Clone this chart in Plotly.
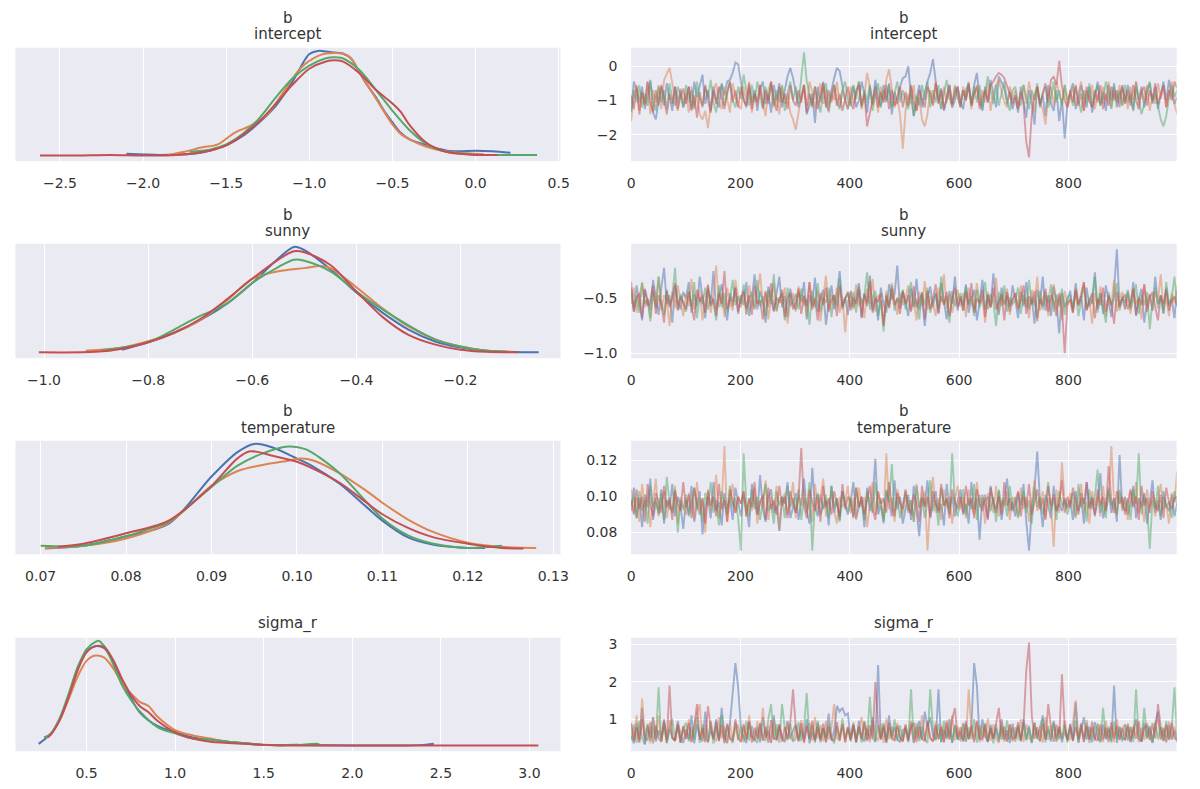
import numpy as np
import plotly.graph_objects as go
from plotly.subplots import make_subplots

chain_colors = ["#4C72B0", "#DD8452", "#55A868", "#C44E52"]
panel_titles = [["b", "intercept"], ["b", "sunny"], ["b", "temperature"], ["sigma_r"]]

# ---------------- KDE (left column), one list per chain ----------------
intercept_kde_x = [
    [-2.10, -1.9, -1.7, -1.6, -1.5, -1.4, -1.3, -1.2, -1.1, -1.0, -0.95, -0.9, -0.85, -0.8, -0.75, -0.7, -0.65, -0.6, -0.55, -0.5, -0.45, -0.4, -0.33, -0.25, -0.17, -0.1, 0.0, 0.1, 0.21],
    [-1.85, -1.75, -1.65, -1.55, -1.45, -1.35, -1.25, -1.15, -1.05, -0.95, -0.9, -0.85, -0.8, -0.75, -0.7, -0.6, -0.5, -0.45, -0.4, -0.3, -0.2, -0.1, 0.0, 0.05],
    [-1.72, -1.6, -1.5, -1.4, -1.3, -1.2, -1.1, -1.0, -0.9, -0.85, -0.8, -0.7, -0.6, -0.5, -0.4, -0.3, -0.2, -0.1, 0.0, 0.1, 0.2, 0.3, 0.37],
    [-2.62, -2.4, -2.2, -2.0, -1.8, -1.6, -1.5, -1.4, -1.3, -1.2, -1.1, -1.0, -0.9, -0.85, -0.8, -0.7, -0.6, -0.5, -0.45, -0.4, -0.3, -0.2, -0.1, 0.0, 0.13],
]
intercept_kde_y = [
    [0.02, 0.01, 0.02, 0.05, 0.10, 0.19, 0.32, 0.48, 0.71, 0.97, 1.0, 0.995, 0.985, 0.975, 0.93, 0.80, 0.67, 0.56, 0.43, 0.32, 0.22, 0.16, 0.12, 0.08, 0.05, 0.045, 0.05, 0.045, 0.03],
    [0.01, 0.04, 0.08, 0.11, 0.22, 0.29, 0.40, 0.62, 0.84, 0.95, 0.975, 0.98, 0.975, 0.93, 0.80, 0.55, 0.30, 0.21, 0.16, 0.09, 0.05, 0.03, 0.02, 0.015],
    [0.04, 0.06, 0.11, 0.21, 0.36, 0.56, 0.74, 0.86, 0.93, 0.94, 0.93, 0.82, 0.63, 0.43, 0.25, 0.12, 0.05, 0.025, 0.01, 0.008, 0.008, 0.01, 0.01],
    [0.005, 0.005, 0.01, 0.005, 0.01, 0.05, 0.10, 0.20, 0.33, 0.50, 0.68, 0.83, 0.90, 0.91, 0.90, 0.79, 0.63, 0.50, 0.42, 0.30, 0.13, 0.05, 0.02, 0.01, 0.01],
]
sunny_kde_x = [
    [-0.85, -0.8, -0.75, -0.7, -0.65, -0.6, -0.55, -0.52, -0.5, -0.45, -0.4, -0.35, -0.3, -0.25, -0.2, -0.15, -0.1, -0.05],
    [-0.92, -0.85, -0.8, -0.75, -0.7, -0.65, -0.6, -0.55, -0.5, -0.47, -0.45, -0.4, -0.35, -0.3, -0.25, -0.2, -0.15, -0.1],
    [-0.89, -0.8, -0.75, -0.72, -0.7, -0.65, -0.6, -0.55, -0.52, -0.5, -0.45, -0.4, -0.35, -0.3, -0.25, -0.2, -0.15, -0.11],
    [-1.01, -0.9, -0.85, -0.8, -0.75, -0.7, -0.65, -0.6, -0.55, -0.52, -0.5, -0.45, -0.4, -0.35, -0.3, -0.25, -0.2, -0.15, -0.09],
]
sunny_kde_y = [
    [0.03, 0.10, 0.19, 0.31, 0.46, 0.66, 0.89, 1.0, 0.97, 0.79, 0.57, 0.38, 0.22, 0.11, 0.05, 0.02, 0.008, 0.005],
    [0.02, 0.05, 0.11, 0.19, 0.31, 0.49, 0.70, 0.77, 0.80, 0.82, 0.80, 0.62, 0.42, 0.25, 0.13, 0.06, 0.02, 0.01],
    [0.02, 0.10, 0.22, 0.30, 0.35, 0.46, 0.66, 0.81, 0.88, 0.87, 0.77, 0.58, 0.41, 0.26, 0.13, 0.06, 0.02, 0.01],
    [0.005, 0.01, 0.04, 0.10, 0.19, 0.32, 0.50, 0.70, 0.88, 0.96, 0.95, 0.83, 0.58, 0.34, 0.17, 0.08, 0.03, 0.01, 0.005],
]
temperature_kde_x = [
    [0.0705, 0.075, 0.08, 0.085, 0.09, 0.093, 0.095, 0.097, 0.1, 0.102, 0.105, 0.108, 0.11, 0.113, 0.116, 0.12, 0.122],
    [0.0705, 0.075, 0.08, 0.085, 0.09, 0.093, 0.096, 0.099, 0.1005, 0.102, 0.105, 0.108, 0.11, 0.113, 0.116, 0.12, 0.124, 0.128],
    [0.070, 0.075, 0.08, 0.083, 0.085, 0.09, 0.093, 0.096, 0.099, 0.101, 0.103, 0.105, 0.108, 0.11, 0.113, 0.116, 0.12, 0.1225, 0.124],
    [0.072, 0.075, 0.08, 0.085, 0.09, 0.093, 0.0945, 0.097, 0.1, 0.102, 0.105, 0.108, 0.11, 0.113, 0.116, 0.12, 0.124, 0.1265],
]
temperature_kde_y = [
    [0.005, 0.03, 0.12, 0.24, 0.69, 0.92, 1.0, 0.97, 0.86, 0.78, 0.62, 0.41, 0.27, 0.11, 0.04, 0.01, 0.01],
    [0.01, 0.03, 0.10, 0.25, 0.60, 0.74, 0.80, 0.84, 0.86, 0.84, 0.72, 0.56, 0.44, 0.28, 0.16, 0.06, 0.02, 0.01],
    [0.03, 0.03, 0.12, 0.20, 0.26, 0.59, 0.79, 0.91, 0.975, 0.95, 0.85, 0.72, 0.46, 0.29, 0.13, 0.05, 0.01, 0.02, 0.03],
    [0.02, 0.05, 0.15, 0.27, 0.60, 0.86, 0.93, 0.89, 0.83, 0.76, 0.63, 0.45, 0.33, 0.20, 0.11, 0.05, 0.01, 0.005],
]
sigma_kde_x = [
    [0.23, 0.3, 0.35, 0.4, 0.45, 0.5, 0.55, 0.6, 0.65, 0.7, 0.75, 0.8, 0.9, 1.0, 1.1, 1.2, 1.3, 1.5, 1.7, 2.0, 2.3, 2.4, 2.46],
    [0.27, 0.3, 0.35, 0.4, 0.45, 0.5, 0.55, 0.6, 0.65, 0.7, 0.75, 0.8, 0.85, 0.9, 1.0, 1.1, 1.2, 1.3, 1.5, 1.6],
    [0.26, 0.3, 0.35, 0.4, 0.45, 0.5, 0.55, 0.57, 0.6, 0.65, 0.7, 0.75, 0.8, 0.9, 1.0, 1.1, 1.2, 1.3, 1.5, 1.7, 1.8, 1.82],
    [0.28, 0.3, 0.35, 0.4, 0.45, 0.5, 0.55, 0.6, 0.65, 0.7, 0.75, 0.8, 0.85, 0.9, 1.0, 1.1, 1.2, 1.4, 1.6, 2.0, 2.5, 3.05],
]
sigma_kde_y = [
    [0.02, 0.12, 0.26, 0.48, 0.74, 0.90, 0.95, 0.93, 0.80, 0.62, 0.46, 0.32, 0.19, 0.13, 0.08, 0.06, 0.04, 0.01, 0.01, 0.005, 0.005, 0.01, 0.02],
    [0.08, 0.12, 0.25, 0.45, 0.66, 0.81, 0.86, 0.84, 0.74, 0.60, 0.50, 0.42, 0.38, 0.28, 0.15, 0.10, 0.07, 0.04, 0.01, 0.005],
    [0.08, 0.12, 0.27, 0.50, 0.75, 0.92, 0.99, 1.0, 0.95, 0.78, 0.58, 0.44, 0.33, 0.18, 0.12, 0.07, 0.06, 0.04, 0.01, 0.01, 0.02, 0.01],
    [0.08, 0.11, 0.25, 0.47, 0.72, 0.89, 0.95, 0.94, 0.82, 0.64, 0.49, 0.38, 0.32, 0.24, 0.13, 0.07, 0.04, 0.02, 0.005, 0.005, 0.005, 0.005],
]

# ---------------- Sampled traces (right column), every 5th draw ----------------
intercept_trace = [
    [-1.3,-.45,-.7,-1.05,-.6,-1.25,-.85,-.4,-1.35,-1.55,-1.0,-.6,-1.15,-.5,-.9,-1.3,-.6,-1.05,-.7,-1.2,
     -.95,-.6,-1.25,-.45,-.9,-.55,-.25,-1.1,-.7,-1.3,-.6,-1.0,-1.2,-.5,-.85,-.45,-.4,-.2,.1,.05,
     -.5,-.95,-1.2,-.6,-1.05,-.7,-1.3,-.65,-.45,-1.1,-.8,-1.35,-.55,-1.0,-.5,-1.2,-.7,-.3,-.05,-.35,
     -.75,-1.2,-.95,-.55,-1.4,-1.15,-.8,-1.65,-.6,-1.05,-.45,-1.1,-1.3,-.7,-.35,-.05,-.15,-.6,-1.0,-1.25,
     -.9,-.55,-1.2,-1.0,-.45,-.8,-1.35,-.6,-1.1,-.4,-.95,-1.2,-.55,-1.05,-.5,-1.4,-.75,-1.1,-.6,-.35,
     -.3,0.0,-.9,-1.45,-1.0,-.55,-1.2,-.75,-.45,-.2,.2,-.5,-1.1,-.65,-1.3,-.9,-.55,-1.2,-1.0,-.6,
     -1.0,-1.25,-.7,-.5,-1.1,-.55,-.2,-.95,-1.3,-.6,-1.05,-.4,-.85,-1.2,-.3,-.5,-.65,-1.1,-.75,-1.25,
     -.9,-1.35,-.6,-1.0,-1.5,-.7,-1.1,-1.7,-.6,-1.2,-.85,-1.45,-.55,-1.1,-1.3,-.7,-1.6,-.95,-2.1,-1.1,
     -.75,-.5,-1.25,-.95,-.55,-.9,-1.2,-.6,-1.35,-.95,-.45,-1.1,-.75,-1.3,-.55,-1.0,-.5,-1.2,-.85,-.6,
     -1.1,-.55,-.9,-1.3,-.45,-1.0,-.6,-1.2,-.75,-.5,-1.1,-.6,-1.25,-.85,-.45,-1.0,-.4,-.8,-1.1,-.9],
    [-1.6,-.85,-.55,-1.3,-.8,-1.15,-.45,-1.4,-.7,-1.05,-.55,-1.25,-.4,-.2,-.05,-.5,-1.0,-1.3,-.65,-1.1,
     -.8,-1.35,-.6,-1.2,-.85,-1.4,-1.55,-1.3,-1.8,-1.1,-.7,-.5,-1.05,-1.25,-.6,-.95,-1.35,-.5,-.9,-1.15,
     -1.25,-.6,-1.05,-.45,-1.35,-.8,-1.15,-.55,-.95,-1.45,-.7,-.45,-1.2,-.85,-1.4,-.6,-1.1,-.8,-1.35,-1.55,
     -1.85,-1.4,-.85,-.55,-1.15,-.45,-.75,-1.25,-.9,-.5,-1.1,-.65,-1.35,-.8,-1.0,-.45,-1.2,-.7,-.95,-1.25,
     -.6,-1.1,-.8,-.45,-1.25,-.85,-.2,-.6,-1.15,-.8,-1.35,-.6,-1.05,-.4,-.1,-.7,-1.2,-.95,-1.4,-2.4,
     -1.3,-.8,-1.1,-.55,-1.3,-.9,-1.55,-1.75,-1.4,-.7,-1.1,-.45,-.95,-1.25,-.6,-1.05,-.7,-1.2,-.55,-.95,
     -1.15,-.6,-.9,-.45,-1.25,-.85,-.55,-1.15,-.7,-1.05,-.5,-1.3,-.8,-.55,-.4,-.75,-1.05,-1.2,-.6,-1.0,
     -.7,-1.25,-.85,-.55,-1.1,-.45,-.9,-1.35,-.6,-1.05,-1.25,-1.7,-.85,-.6,-1.15,-.45,-.8,-1.1,-.55,-1.2,
     -.95,-.6,-1.15,-.8,-.45,-1.3,-.7,-1.05,-.55,-1.25,-.8,-1.15,-.6,-1.0,-.45,-1.2,-.7,-1.05,-.55,-1.15,
     -.8,-1.25,-.6,-1.0,-.45,-1.15,-.7,-1.05,-.55,-1.3,-.8,-1.1,-.5,-.95,-.6,-1.2,-.75,-.45,-1.1,-1.4],
    [-1.35,-.7,-1.05,-.55,-1.2,-.8,-1.15,-.45,-.95,-1.3,-.6,-1.05,-.7,-1.25,-.5,-.95,-1.15,-.6,-.85,-1.2,
     -.55,-1.05,-.7,-1.25,-.45,-.95,-1.15,-.6,-.9,-.4,-1.05,-1.35,-.7,-.55,-1.15,-.8,-.45,-1.0,-1.2,-.6,
     -.95,-.25,-.7,-1.15,-.55,-1.05,-.45,-.85,-1.25,-.6,-1.0,-.5,-1.15,-.7,-1.05,-.55,-1.3,-.8,-.45,-1.0,
     -.6,-1.1,-.4,.4,-.45,-.85,-1.2,-.6,-1.0,-1.35,-.7,-.5,-1.15,-.8,-.55,-1.05,-1.25,-.7,-.45,-1.0,
     -1.15,-.6,-.95,-.45,-1.2,-.7,-1.05,-.55,-1.3,-.8,-.5,-1.15,-.7,-1.0,-.55,-1.2,-.8,-.45,-1.05,-.7,
     -1.0,-1.25,-.6,-1.45,-.85,-1.15,-.55,-1.0,-.45,-1.2,-.7,-1.05,-.55,-1.25,-.8,-.4,-.95,-1.15,-.6,-.85,
     -1.2,-.7,-1.0,-.5,-1.15,-.6,-1.05,-.55,-1.25,-.8,-.3,-.7,-1.1,-.55,-1.15,-.8,-.45,-1.0,-1.3,-.7,
     -.6,-1.05,-1.15,-.55,-.9,-1.25,-.7,-1.0,-.5,-1.15,-.8,-.6,-1.2,-.95,-.45,-1.05,-.7,-1.15,-.55,-1.0,
     -.8,-1.15,-.6,-1.0,-1.35,-.7,-1.05,-.5,-1.2,-.8,-.55,-1.15,-.95,-.45,-.85,-1.25,-.6,-1.05,-.7,-1.15,
     -.55,-1.05,-.8,-1.25,-.6,-1.0,-1.4,-1.1,-.7,-.45,-1.05,-.8,-1.2,-1.55,-1.75,-1.45,-.95,-.55,-.9,-.7],
    [-.85,-1.25,-.6,-1.4,-.75,-1.1,-.45,-1.05,-1.35,-.7,-1.15,-.55,-.95,-1.4,-.8,-1.1,-.6,-1.25,-.9,-.65,
     -1.1,-.6,-1.3,-.85,-1.5,-.75,-1.2,-.55,-1.0,-1.35,-.7,-1.1,-.6,-.95,-1.25,-.75,-.45,-1.05,-.7,-1.2,
     -.6,-1.0,-1.15,-.5,-1.25,-.8,-1.05,-.55,-1.2,-.7,-1.1,-.45,-.95,-1.3,-.6,-1.05,-.8,-1.25,-.55,-1.0,
     -1.15,-.7,-1.05,-.55,-1.35,-.8,-1.15,-.6,-1.25,-.85,-.5,-1.2,-.7,-1.05,-.55,-1.15,-.8,-1.3,-.95,-.6,
     -1.05,-1.25,-.7,-.55,-1.15,-.8,-1.75,-1.35,-.95,-.6,-1.2,-.75,-1.05,-.55,-1.25,-.7,-1.15,-.9,-.6,-1.2,
     -.75,-1.15,-.55,-1.05,-1.3,-.7,-.95,-1.2,-.6,-.8,-1.15,-.5,-1.05,-.7,-1.25,-.95,-.55,-1.1,-.8,-.6,
     -1.2,-.7,-1.0,-.55,-1.15,-.8,-.6,-1.25,-.95,-.7,-1.05,-.55,-.45,-.3,-.2,-.25,-.35,-.55,-.8,-1.1,
     -.85,-1.25,-.75,-1.1,-2.2,-2.65,-1.4,-.85,-.6,-1.1,-.8,-.5,-1.05,-.4,-.3,-.55,.15,-.6,-1.0,-1.2,
     -.7,-1.05,-.55,-1.15,-.8,-1.3,-.6,-1.0,-1.2,-.7,-1.05,-.55,-1.25,-.8,-1.15,-.6,-1.0,-.7,-1.2,-.55,
     -1.05,-.7,-1.15,-.55,-1.0,-1.25,-.75,-.6,-1.15,-.7,-1.0,-.5,-1.1,-.8,-.55,-1.2,-.7,-1.0,-.45,-.65],
]
sunny_trace = [
    [-.45,-.62,-.38,-.55,-.7,-.42,-.5,-.6,-.33,-.48,-.65,-.4,-.22,-.55,-.47,-.72,-.38,-.52,-.6,-.44,
     -.5,-.35,-.63,-.46,-.57,-.3,-.52,-.68,-.41,-.55,-.25,-.6,-.48,-.37,-.58,-.7,-.45,-.53,-.4,-.62,
     -.47,-.56,-.35,-.66,-.5,-.28,-.6,-.43,-.54,-.72,-.39,-.5,-.62,-.45,-.3,-.58,-.48,-.67,-.41,-.55,
     -.6,-.44,-.52,-.35,-.69,-.47,-.56,-.31,-.62,-.5,-.42,-.74,-.53,-.38,-.6,-.46,-.25,-.57,-.49,-.65,
     -.43,-.58,-.5,-.36,-.67,-.45,-.54,-.29,-.61,-.48,-.7,-.4,-.55,-.63,-.37,-.51,-.46,-.2,-.59,-.44,
     -.53,-.66,-.41,-.57,-.32,-.6,-.47,-.75,-.5,-.39,-.58,-.45,-.64,-.36,-.52,-.69,-.43,-.55,-.3,-.61,
     -.48,-.56,-.37,-.63,-.5,-.42,-.7,-.54,-.33,-.6,-.46,-.58,-.27,-.52,-.65,-.4,-.55,-.47,-.62,-.38,
     -.51,-.68,-.44,-.57,-.35,-.6,-.49,-.73,-.42,-.55,-.3,-.61,-.47,-.66,-.39,-.53,-.82,-.45,-.58,-.5,
     -.43,-.62,-.36,-.55,-.48,-.7,-.4,-.57,-.51,-.26,-.6,-.45,-.64,-.38,-.53,-.67,-.42,-.05,-.56,-.49,
     -.6,-.44,-.58,-.35,-.66,-.5,-.41,-.72,-.54,-.46,-.61,-.3,-.55,-.48,-.64,-.4,-.57,-.5,-.68,-.43],
    [-.55,-.4,-.63,-.48,-.35,-.58,-.5,-.68,-.42,-.56,-.3,-.61,-.47,-.53,-.75,-.44,-.59,-.38,-.52,-.66,
     -.46,-.57,-.32,-.6,-.5,-.42,-.7,-.55,-.37,-.63,-.48,-.2,-.58,-.45,-.67,-.4,-.54,-.61,-.33,-.5,
     -.58,-.44,-.65,-.38,-.52,-.6,-.47,-.27,-.56,-.43,-.69,-.5,-.36,-.62,-.49,-.55,-.4,-.73,-.51,-.45,
     -.62,-.39,-.54,-.47,-.66,-.35,-.58,-.5,-.43,-.71,-.52,-.29,-.6,-.46,-.56,-.4,-.63,-.49,-.81,-.53,
     -.44,-.6,-.37,-.57,-.5,-.68,-.41,-.55,-.32,-.62,-.47,-.53,-.74,-.43,-.58,-.36,-.51,-.65,-.45,-.56,
     -.49,-.38,-.61,-.52,-.7,-.44,-.57,-.34,-.6,-.48,-.55,-.66,-.4,-.53,-.28,-.59,-.46,-.63,-.51,-.42,
     -.57,-.45,-.67,-.4,-.53,-.6,-.36,-.55,-.48,-.72,-.44,-.58,-.5,-.31,-.62,-.47,-.56,-.41,-.65,-.52,
     -.45,-.6,-.38,-.55,-.49,-.68,-.42,-.57,-.3,-.61,-.5,-.44,-.66,-.53,-.37,-.59,-.47,-.7,-.43,-.56,
     -.51,-.63,-.4,-.56,-.46,-.35,-.6,-.52,-.73,-.45,-.58,-.39,-.54,-.66,-.48,-.57,-.33,-.62,-.5,-.44,
     -.59,-.47,-.64,-.41,-.55,-.5,-.69,-.37,-.58,-.46,-.61,-.43,-.53,-.28,-.6,-.49,-.66,-.45,-.54,-.38],
    [-.4,-.58,-.47,-.63,-.36,-.55,-.5,-.71,-.44,-.59,-.3,-.52,-.65,-.42,-.56,-.48,-.22,-.6,-.46,-.54,
     -.62,-.43,-.57,-.35,-.68,-.49,-.55,-.4,-.6,-.47,-.53,-.7,-.38,-.58,-.45,-.63,-.51,-.33,-.56,-.48,
     -.55,-.37,-.64,-.5,-.44,-.59,-.33,-.57,-.48,-.66,-.42,-.55,-.28,-.61,-.5,-.45,-.7,-.4,-.57,-.52,
     -.46,-.6,-.41,-.56,-.5,-.74,-.43,-.58,-.36,-.62,-.49,-.54,-.4,-.67,-.47,-.57,-.32,-.6,-.5,-.45,
     -.58,-.44,-.63,-.39,-.55,-.48,-.26,-.6,-.5,-.43,-.66,-.52,-.8,-.46,-.57,-.38,-.61,-.49,-.54,-.42,
     -.6,-.47,-.35,-.58,-.5,-.69,-.44,-.56,-.4,-.63,-.51,-.46,-.59,-.3,-.55,-.48,-.72,-.43,-.57,-.5,
     -.45,-.61,-.39,-.55,-.48,-.66,-.42,-.58,-.5,-.35,-.6,-.46,-.53,-.75,-.44,-.57,-.38,-.62,-.49,-.55,
     -.52,-.4,-.64,-.47,-.58,-.33,-.56,-.5,-.68,-.43,-.6,-.48,-.54,-.37,-.62,-.46,-.57,-.41,-.65,-.5,
     -.47,-.59,-.43,-.66,-.52,-.38,-.6,-.49,-.55,-.3,-.63,-.45,-.58,-.72,-.44,-.56,-.5,-.36,-.61,-.48,
     -.54,-.42,-.6,-.5,-.37,-.64,-.47,-.56,-.44,-.78,-.52,-.4,-.59,-.47,-.63,-.35,-.55,-.49,-.3,-.57],
    [-.35,-.62,-.5,-.45,-.68,-.41,-.57,-.52,-.38,-.64,-.47,-.55,-.72,-.43,-.58,-.5,-.36,-.61,-.48,-.54,
     -.6,-.44,-.56,-.7,-.42,-.53,-.47,-.63,-.38,-.57,-.5,-.66,-.45,-.55,-.25,-.6,-.49,-.57,-.4,-.64,
     -.5,-.43,-.59,-.47,-.65,-.38,-.55,-.52,-.69,-.44,-.58,-.36,-.61,-.49,-.54,-.42,-.67,-.5,-.45,-.6,
     -.53,-.41,-.64,-.48,-.57,-.35,-.6,-.5,-.7,-.45,-.56,-.4,-.62,-.52,-.47,-.66,-.38,-.58,-.5,-.44,
     -.61,-.49,-.55,-.42,-.68,-.46,-.57,-.34,-.63,-.5,-.53,-.45,-.75,-.48,-.59,-.41,-.56,-.5,-.64,-.43,
     -.55,-.47,-.62,-.39,-.58,-.51,-.45,-.69,-.43,-.6,-.5,-.37,-.63,-.48,-.56,-.44,-.66,-.52,-.4,-.58,
     -.49,-.61,-.44,-.56,-.36,-.63,-.5,-.54,-.42,-.67,-.47,-.58,-.4,-.6,-.52,-.46,-.7,-.44,-.57,-.5,
     -.45,-.59,-.52,-.38,-.64,-.48,-.55,-.43,-.71,-.5,-.57,-.41,-.62,-.47,-.53,-.66,-.45,-.58,-1.0,-.55,
     -.5,-.63,-.42,-.57,-.48,-.35,-.61,-.52,-.45,-.68,-.5,-.56,-.4,-.62,-.47,-.55,-.73,-.44,-.58,-.51,
     -.46,-.6,-.53,-.41,-.65,-.49,-.56,-.37,-.62,-.5,-.44,-.58,-.7,-.47,-.55,-.42,-.61,-.52,-.48,-.57],
]
temperature_trace = [
    [.092,.105,.088,.099,.083,.101,.094,.11,.087,.097,.091,.104,.085,.098,.093,.107,.089,.1,.095,.082,
     .098,.09,.106,.086,.096,.103,.079,.094,.1,.088,.108,.092,.097,.084,.102,.093,.099,.087,.105,.096,
     .089,.101,.094,.083,.107,.097,.09,.112,.093,.086,.099,.104,.091,.095,.081,.1,.096,.108,.088,.094,
     .102,.087,.097,.11,.092,.085,.116,.095,.089,.101,.093,.098,.084,.106,.091,.099,.087,.103,.095,.09,
     .097,.108,.088,.094,.1,.083,.105,.092,.098,.121,.09,.095,.086,.103,.097,.089,.109,.093,.1,.085,
     .094,.101,.087,.106,.092,.078,.099,.095,.109,.088,.097,.103,.091,.096,.084,.107,.093,.1,.089,.098,
     .104,.09,.096,.085,.108,.093,.099,.076,.101,.094,.088,.106,.095,.091,.103,.087,.098,.11,.092,.097,
     .089,.102,.095,.107,.086,.07,.093,.104,.125,.097,.083,.101,.095,.088,.106,.092,.096,.092,.099,.094,
     .098,.087,.103,.092,.099,.085,.108,.094,.1,.09,.097,.113,.088,.095,.104,.091,.099,.086,.123,.093,
     .1,.09,.096,.106,.088,.099,.094,.102,.085,.097,.109,.091,.098,.087,.103,.095,.092,.101,.089,.096],
    [.104,.091,.099,.086,.107,.094,.101,.083,.097,.11,.089,.095,.103,.088,.098,.092,.106,.085,.1,.094,
     .09,.102,.096,.087,.108,.093,.099,.08,.104,.092,.097,.112,.088,.095,.128,.086,.098,.107,.091,.1,
     .096,.103,.089,.099,.092,.105,.085,.098,.094,.109,.087,.1,.093,.106,.081,.097,.102,.09,.096,.108,
     .088,.101,.095,.104,.091,.098,.086,.107,.093,.099,.11,.089,.096,.103,.092,.085,.1,.094,.097,.106,
     .091,.099,.087,.105,.094,.1,.083,.097,.108,.09,.102,.095,.088,.124,.093,.099,.086,.104,.096,.09,
     .101,.092,.098,.086,.107,.094,.095,.103,.07,.097,.111,.091,.099,.087,.104,.094,.1,.085,.098,.106,
     .093,.1,.088,.104,.096,.09,.108,.094,.099,.085,.102,.097,.091,.106,.089,.098,.095,.103,.087,.1,
     .097,.089,.105,.093,.1,.086,.098,.109,.092,.096,.103,.088,.099,.095,.072,.104,.091,.119,.097,.093,
     .102,.094,.088,.099,.107,.091,.097,.085,.103,.095,.1,.089,.106,.093,.098,.128,.096,.09,.104,.092,
     .099,.087,.103,.095,.108,.091,.097,.086,.104,.094,.1,.089,.098,.107,.093,.096,.085,.102,.097,.114],
    [.095,.1,.088,.103,.092,.098,.085,.106,.094,.099,.09,.102,.087,.111,.096,.091,.104,.08,.098,.093,
     .101,.089,.097,.105,.093,.099,.086,.102,.095,.108,.091,.098,.084,.103,.097,.09,.106,.094,.099,.088,
     .07,.124,.096,.089,.104,.093,.1,.087,.098,.107,.092,.096,.085,.103,.095,.1,.088,.106,.094,.099,
     .091,.104,.087,.099,.093,.108,.07,.097,.102,.09,.095,.101,.088,.106,.094,.099,.086,.103,.096,.092,
     .1,.089,.105,.094,.098,.087,.103,.096,.091,.108,.093,.099,.085,.104,.097,.118,.092,.1,.088,.095,
     .103,.091,.098,.086,.106,.094,.1,.088,.097,.109,.092,.098,.084,.105,.095,.099,.09,.124,.096,.089,
     .097,.104,.09,.099,.093,.107,.087,.101,.095,.098,.1,.092,.1,.086,.104,.094,.099,.089,.106,.093,
     .1,.088,.096,.103,.091,.098,.085,.105,.094,.1,.09,.097,.108,.092,.099,.087,.103,.095,.098,.09,
     .096,.102,.089,.107,.094,.099,.086,.104,.093,.1,.115,.091,.097,.088,.105,.095,.099,.09,.103,.096,
     .092,.099,.087,.104,.096,.124,.09,.101,.095,.071,.098,.093,.106,.089,.1,.094,.097,.088,.103,.095],
    [.098,.09,.104,.093,.1,.086,.107,.095,.089,.102,.097,.091,.106,.094,.099,.087,.103,.096,.092,.108,
     .094,.101,.088,.105,.096,.09,.099,.085,.103,.095,.1,.089,.107,.093,.098,.086,.104,.097,.091,.1,
     .096,.103,.089,.099,.094,.108,.09,.097,.101,.087,.105,.093,.098,.09,.106,.095,.1,.088,.103,.096,
     .091,.099,.127,.095,.088,.104,.097,.092,.101,.086,.106,.094,.099,.09,.103,.096,.089,.107,.093,.1,
     .097,.088,.105,.094,.1,.09,.098,.106,.093,.087,.103,.096,.099,.091,.108,.095,.089,.102,.097,.093,
     .104,.095,.09,.101,.097,.086,.106,.094,.1,.089,.103,.096,.092,.107,.095,.099,.088,.104,.097,.093,
     .1,.091,.106,.095,.099,.088,.104,.096,.092,.101,.087,.105,.097,.093,.1,.09,.108,.095,.099,.092,
     .096,.103,.089,.1,.094,.107,.09,.098,.104,.093,.099,.087,.106,.095,.101,.092,.097,.109,.091,.1,
     .094,.105,.097,.09,.102,.096,.108,.093,.099,.089,.104,.095,.1,.092,.117,.098,.091,.103,.096,.1,
     .09,.098,.104,.094,.1,.087,.106,.095,.099,.091,.103,.096,.092,.101,.088,.105,.097,.093,.099,.1],
]
sigma_trace = [
    [.55,.35,.9,.45,1.3,.32,.8,.5,1.05,.4,.7,.48,1.0,.38,.75,.5,.42,.95,.58,.36,
     .72,.45,1.1,.35,.85,.55,.4,1.2,.38,.7,.5,1.0,.42,1.3,.55,.36,.88,1.6,2.5,1.85,
     .8,.5,.36,.95,.55,.42,.78,.38,1.05,.5,.68,.36,1.1,.45,.82,.52,.4,.95,.48,.7,
     .85,.4,.7,.46,1.0,.35,.65,.44,.9,.38,.75,.5,1.15,.42,.7,1.35,1.2,1.3,1.1,1.15,
     .45,.82,.36,.95,.5,.4,.75,.45,1.05,.38,2.45,.48,.85,.42,1.1,.52,.78,.46,.38,.7,
     .75,.42,.9,.36,.68,.95,.45,1.2,.8,1.05,.55,.44,1.8,.38,.72,.5,1.0,.36,.82,.45,
     .65,.4,.95,.46,.8,2.5,1.9,.44,1.0,.55,.38,.85,.48,.75,.4,1.0,.46,.7,.36,.88,
     .5,.78,.4,1.0,.45,.82,.36,.9,.5,.75,1.1,.46,.72,.4,.95,.48,.8,.38,.68,.45,
     .88,.42,1.45,.36,.7,1.05,.45,.8,.38,.92,.52,.38,.85,.46,.75,.42,1.9,.36,.8,.48,
     .45,.82,.38,.72,1.0,.46,.4,.9,.5,.78,.36,.9,1.2,.46,.75,.4,.85,.45,.7,.38],
    [.9,.45,1.1,.38,1.55,.55,.85,.35,1.05,.48,1.1,.42,.8,.36,.98,.5,.42,.9,.36,.82,
     .46,1.0,.38,.78,1.15,1.4,.45,.85,.36,.95,.5,.4,1.05,.48,.8,.35,.9,.42,.75,.85,
     .38,.88,.45,1.1,.52,.4,.95,.44,1.3,.5,.82,.37,1.0,.45,.86,.48,.38,.92,.5,.42,
     .8,.46,.98,.36,.75,.9,.42,1.05,.48,.84,.4,.95,.45,.78,1.4,.5,.42,.88,.37,.8,
     .47,.92,.4,.75,1.05,.45,.82,.38,.98,.5,.44,.88,.36,1.02,.46,.8,.42,.9,.5,.4,
     .85,.44,.95,.38,.78,.47,1.1,.42,.86,.5,.4,.92,.45,.84,.36,.98,.48,1.1,.43,.8,
     .46,.9,.4,1.8,.75,.44,.96,.38,.82,.5,1.02,.42,.86,.47,.36,.94,.5,.43,.85,.4,
     .78,.45,1.0,.38,.86,.49,.42,.92,.47,.82,.37,1.05,.44,.76,.9,.4,.8,.47,.96,.42,
     .48,.9,1.5,.44,.84,.38,.98,.46,.78,.41,.88,.49,.39,.95,.45,.8,.38,1.0,.47,.76,
     .86,.41,.8,.48,.98,.38,.76,.44,.9,.49,.4,.85,1.0,.45,.78,.37,.94,.47,.8,.42],
    [.45,.85,.36,.95,.48,.32,.88,.42,.78,.46,1.85,.4,.9,.35,.76,1.0,.43,.82,.38,.74,
     .9,.4,.78,.45,1.05,.36,.86,.47,.41,.93,.34,.8,.46,1.1,.4,.84,.5,.36,.92,.44,
     .78,.38,.95,.43,.82,.47,.36,.9,.49,.42,1.0,1.4,.45,.86,.37,1.4,.76,.44,.88,.4,
     .47,.92,.41,.78,1.7,.46,.85,.37,.96,.44,.76,.4,.88,.49,.35,.82,.42,1.02,.47,.78,
     .4,.86,.46,.77,.37,.94,.44,1.6,.48,.4,.84,.46,.9,.36,.78,.48,1.0,.42,.83,.44,
     .75,.38,1.8,.45,.9,.41,.8,.47,.36,1.8,.76,.44,.87,.39,.95,.46,.77,.37,.85,.49,
     .43,.88,.39,.78,.46,1.0,.37,.82,.48,.9,.41,.76,.35,.86,.45,.8,.4,.96,.47,.77,
     .39,.84,.46,.92,.42,.76,.36,.88,.49,.44,1.02,.38,.82,.47,.9,.4,.78,.46,.85,.37,
     .76,.44,.96,.39,.83,.47,.9,.36,.75,.45,.87,.41,1.3,.48,.8,.37,.93,.46,.77,.4,
     .85,.45,.78,.39,1.8,.48,.43,1.3,.47,.82,.37,.9,.46,.79,.41,.95,.44,.75,1.85,.47],
    [.88,.41,.78,.37,1.0,.48,.44,.92,.35,.83,.49,.39,.95,.45,1.9,.5,.42,.86,.36,.8,
     .47,.9,.39,.82,1.4,.44,.76,.38,1.35,.78,.46,.93,.41,.85,.35,.88,.48,.43,1.0,.49,
     .39,.84,.45,.92,.37,.77,.47,.88,.42,.8,.36,.97,.49,.44,.86,.4,.79,.46,.91,1.8,
     .77,.43,.89,.38,.82,.47,.96,.41,.78,.45,.88,.37,.8,.48,.42,.92,.46,.85,.39,.76,
     .44,.86,.39,.8,.47,.93,.41,.83,.49,2.0,.88,.45,.78,.38,.9,.47,.43,.82,.5,.4,
     .85,.44,.77,.9,.38,.8,.46,.42,.95,.49,.4,.84,.47,.78,.39,.91,.45,1.0,1.3,.48,
     .78,.41,.88,.46,.82,.38,.93,.49,.44,.85,.4,.77,.47,.9,1.3,.45,.8,.39,.86,.46,
     .49,.92,.42,.82,2.3,3.05,1.1,.47,.78,.4,.88,.45,1.4,.79,.39,.85,.46,2.2,.8,.44,
     .84,.41,.78,.47,.89,.39,.81,.45,.93,.49,.42,.86,.46,.77,.38,.91,.48,.82,.43,.76,
     .45,.88,.41,.8,.47,.94,.39,.77,.84,.44,.89,.48,1.4,.79,.42,.85,.46,.9,.49,.44],
]

# ---------------- Ticks ----------------
kde_ticks = [
    [-2.5, -2.0, -1.5, -1.0, -0.5, 0.0, 0.5],
    [-1.0, -0.8, -0.6, -0.4, -0.2],
    [0.07, 0.08, 0.09, 0.10, 0.11, 0.12, 0.13],
    [0.5, 1.0, 1.5, 2.0, 2.5, 3.0],
]
trace_draw_ticks = [0, 200, 400, 600, 800]
trace_value_ticks = [
    [-2, -1, 0],
    [-1.0, -0.5],
    [0.08, 0.10, 0.12],
    [1, 2, 3],
]

# ---------------- Layout geometry ----------------
W, H = 1200, 789
left_dom = [11.5 / W, 562.6 / W]
right_dom = [634 / W, 1185.5 / W]
row_px = [(47, 161), (244, 359), (442, 556), (640, 754)]
kde_xranges = [[-2.768, 0.511], [-1.055, -0.008], [0.06704, 0.13085], [0.0985, 3.175]]
trace_yranges = [[-2.76, 0.53], [-1.045, 0.0], [0.068, 0.131], [0.14, 3.18]]
kde_fmt = [".1f", ".1f", ".2f", ".1f"]
trace_fmt = ["d", ".1f", ".2f", "d"]
title_px = [[17, 33], [215, 231], [412, 429], [626]]

kde_x_all = [intercept_kde_x, sunny_kde_x, temperature_kde_x, sigma_kde_x]
kde_y_all = [intercept_kde_y, sunny_kde_y, temperature_kde_y, sigma_kde_y]
trace_all = [intercept_trace, sunny_trace, temperature_trace, sigma_trace]

fig = make_subplots(rows=4, cols=2)

for r in range(4):
    for c in range(4):
        fig.add_trace(go.Scatter(
            x=kde_x_all[r][c], y=kde_y_all[r][c], mode="lines",
            line=dict(color=chain_colors[c], width=2, shape="spline", smoothing=0.9),
            showlegend=False, hoverinfo="skip"), row=r + 1, col=1)
    for c in range(4):
        vals = trace_all[r][c]
        draws = np.linspace(0, 999, len(vals))
        fig.add_trace(go.Scatter(
            x=draws, y=vals, mode="lines",
            line=dict(color=chain_colors[c], width=1.9),
            opacity=0.5, showlegend=False, hoverinfo="skip"), row=r + 1, col=2)

tick_font = dict(family="DejaVu Sans", size=14, color="#333333")
for r in range(4):
    top, bot = row_px[r]
    ydom = [1 - bot / H, 1 - top / H]
    fig.update_xaxes(row=r + 1, col=1, domain=left_dom, range=kde_xranges[r],
                     tickmode="array", tickvals=kde_ticks[r], tickformat=kde_fmt[r],
                     showgrid=True, gridcolor="white", gridwidth=1.4, zeroline=False,
                     showline=False, ticks="outside", ticklen=9, tickcolor="rgba(0,0,0,0)",
                     tickfont=tick_font)
    fig.update_yaxes(row=r + 1, col=1, domain=ydom, range=[-0.05, 1.03],
                     showticklabels=False, showgrid=False, zeroline=False, showline=False)
    fig.update_xaxes(row=r + 1, col=2, domain=right_dom, range=[0, 998],
                     tickmode="array", tickvals=trace_draw_ticks,
                     showgrid=True, gridcolor="white", gridwidth=1.4, zeroline=False,
                     showline=False, ticks="outside", ticklen=9, tickcolor="rgba(0,0,0,0)",
                     tickfont=tick_font)
    fig.update_yaxes(row=r + 1, col=2, domain=ydom, range=trace_yranges[r],
                     tickmode="array", tickvals=trace_value_ticks[r], tickformat=trace_fmt[r],
                     showgrid=True, gridcolor="white", gridwidth=1.4, zeroline=False,
                     showline=False, ticks="outside", ticklen=10, tickcolor="rgba(0,0,0,0)",
                     tickfont=tick_font)

annotations = []
centers = [(left_dom[0] + left_dom[1]) / 2, (right_dom[0] + right_dom[1]) / 2]
for r in range(4):
    for cx in centers:
        for line_text, py in zip(panel_titles[r], title_px[r]):
            annotations.append(dict(
                text=line_text, x=cx, y=1 - py / H, xref="paper", yref="paper",
                xanchor="center", yanchor="middle", showarrow=False,
                font=dict(family="DejaVu Sans", size=15, color="#333333")))

fig.update_layout(
    width=W, height=H, margin=dict(l=0, r=0, t=0, b=0),
    paper_bgcolor="white", plot_bgcolor="#EAEAF2",
    font=dict(family="DejaVu Sans", color="#333333"),
    annotations=annotations, showlegend=False,
)

fig.write_html("out.html", config={"displayModeBar": False},
               post_script="document.body.style.margin='0px';")
